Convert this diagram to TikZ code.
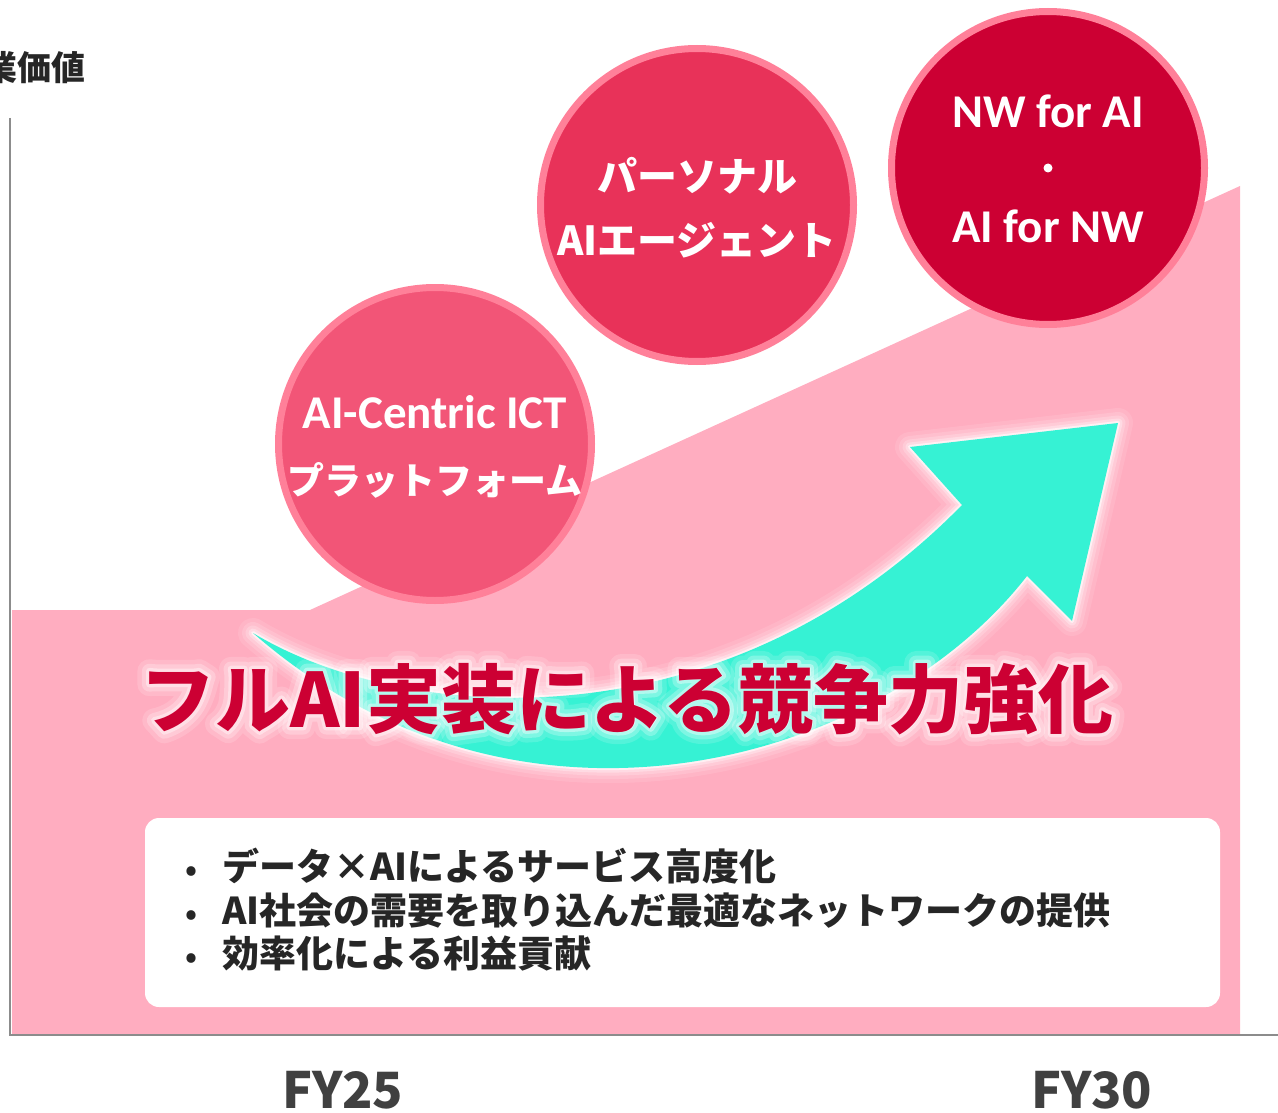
\documentclass[tikz,border=0pt]{standalone}
\usepackage{fontspec}
\setmainfont{Noto Sans CJK JP}
\newfontfamily\latfont{Carlito}
\usetikzlibrary{calc}
\definecolor{pinkarea}{HTML}{FFADC0}
\definecolor{cone}{HTML}{F25577}
\definecolor{ctwo}{HTML}{E83259}
\definecolor{cthree}{HTML}{CC0033}
\definecolor{cborder}{HTML}{FF8099}
\definecolor{arrowcyan}{HTML}{36F2D4}
\definecolor{titlered}{HTML}{CC0033}
\definecolor{axisgray}{HTML}{8C8C8C}
\definecolor{labelgray}{HTML}{404040}
\definecolor{bodytext}{HTML}{262626}
\tikzset{
  bubble/.style={circle, draw=cborder, line width=7pt, minimum size=313pt, inner sep=0pt},
  bubjp/.style={text=white, font=\bfseries\fontsize{37}{40}\selectfont, inner sep=0pt, anchor=base},
  bubjpbig/.style={text=white, font=\bfseries\fontsize{40}{44}\selectfont, inner sep=0pt, anchor=base},
  bublat/.style={text=white, font=\latfont\bfseries\fontsize{47}{50}\selectfont, inner sep=0pt, anchor=base},
  titletxt/.style={font=\bfseries\fontsize{75}{80}\selectfont, inner sep=0pt, anchor=base},
  bullettxt/.style={text=bodytext, font=\bfseries\fontsize{37}{40}\selectfont, inner sep=0pt, anchor=base west},
  bulletdot/.style={text=bodytext, font=\bfseries\fontsize{30}{40}\selectfont, inner sep=0pt, anchor=base},
  fylabel/.style={text=labelgray, font=\bfseries\fontsize{50}{55}\selectfont, inner sep=0pt, anchor=base},
  axisline/.style={draw=axisgray, line width=1.6pt},
}
\def\ttl{フルAI実装による競争力強化}
\def\arrowpath{(253,633) .. controls (400,722) and (720,752) .. (962,505) -- (910,447) -- (1118,423) -- (1072,621) -- (1027,576) .. controls (880,765) and (520,866) .. (253,633) -- cycle}
\begin{document}
\begin{tikzpicture}[x=1pt,y=-1pt]
\useasboundingbox (0,0) rectangle (1278,1113);
% axes
\coordinate (ytop) at (10,118);
\coordinate (orig) at (10,1035);
\coordinate (xend) at (1278,1035);
% pink area
\fill[pinkarea] (12,610) -- (310,610) -- (1240,186) -- (1240,1035) -- (12,1035) -- cycle;
\draw[axisline] (ytop) -- (orig) -- (xend);
% axis label
\node[text=bodytext, font=\bfseries\fontsize{34}{40}\selectfont, inner sep=0pt, anchor=base east] (ylab) at (86,81) {事業価値};
% bubbles
\node[bubble, fill=cone] (c1) at (435,444) {};
\node[bubble, fill=ctwo] (c2) at (697,205) {};
\node[bubble, fill=cthree] (c3) at (1048,168) {};
\node[bublat] (c1a) at (435,428) {AI-Centric ICT};
\node[bubjp] (c1b) at (435,494) {プラットフォーム};
\node[bubjpbig] (c2a) at (697,192) {パーソナル};
\node[bubjpbig] (c2b) at (697,255) {AIエージェント};
\node[bublat] (c3a) at (1048,128) {NW for AI};
\node[circle, fill=white, inner sep=0pt, minimum size=9pt] (c3dot) at (1048,168) {};
\node[bublat] (c3b) at (1048,243) {AI for NW};
% arrow glow
\foreach \w/\o in {30/0.10, 22/0.14, 15/0.2, 9/0.3, 4/0.6}{
  \draw[white, line width=\w pt, opacity=\o, line join=round] \arrowpath;
}
\fill[arrowcyan] \arrowpath;
% title glow (stroked copies of the title)
\node[titletxt, text=white, opacity=0.15, line join=round, font=\bfseries\fontsize{75}{80}\selectfont\addfontfeature{FakeBold=32}] (tglowa) at (627,727) {\ttl};
\node[titletxt, text=white, opacity=0.25, line join=round, font=\bfseries\fontsize{75}{80}\selectfont\addfontfeature{FakeBold=20}] (tglowb) at (627,727) {\ttl};
\node[titletxt, text=white, opacity=0.4, line join=round, font=\bfseries\fontsize{75}{80}\selectfont\addfontfeature{FakeBold=9}] (tglowc) at (627,727) {\ttl};
\node[titletxt, text=titlered] (title) at (627,727) {\ttl};
% white box
\node[fill=white, rounded corners=14pt, minimum width=1075pt, minimum height=189pt, inner sep=0pt] (box) at (682.5,912.5) {};
\node[bulletdot] (b1) at (191,880) {•};
\node[bulletdot] (b2) at (191,924) {•};
\node[bulletdot] (b3) at (191,967) {•};
\node[bullettxt] (l1) at (222,880) {データ×AIによるサービス高度化};
\node[bullettxt] (l2) at (222,924) {AI社会の需要を取り込んだ最適なネットワークの提供};
\node[bullettxt] (l3) at (222,967) {効率化による利益貢献};
% x labels
\node[fylabel] (fy25) at (343,1108) {FY25};
\node[fylabel] (fy30) at (1092,1108) {FY30};
\end{tikzpicture}
\end{document}
